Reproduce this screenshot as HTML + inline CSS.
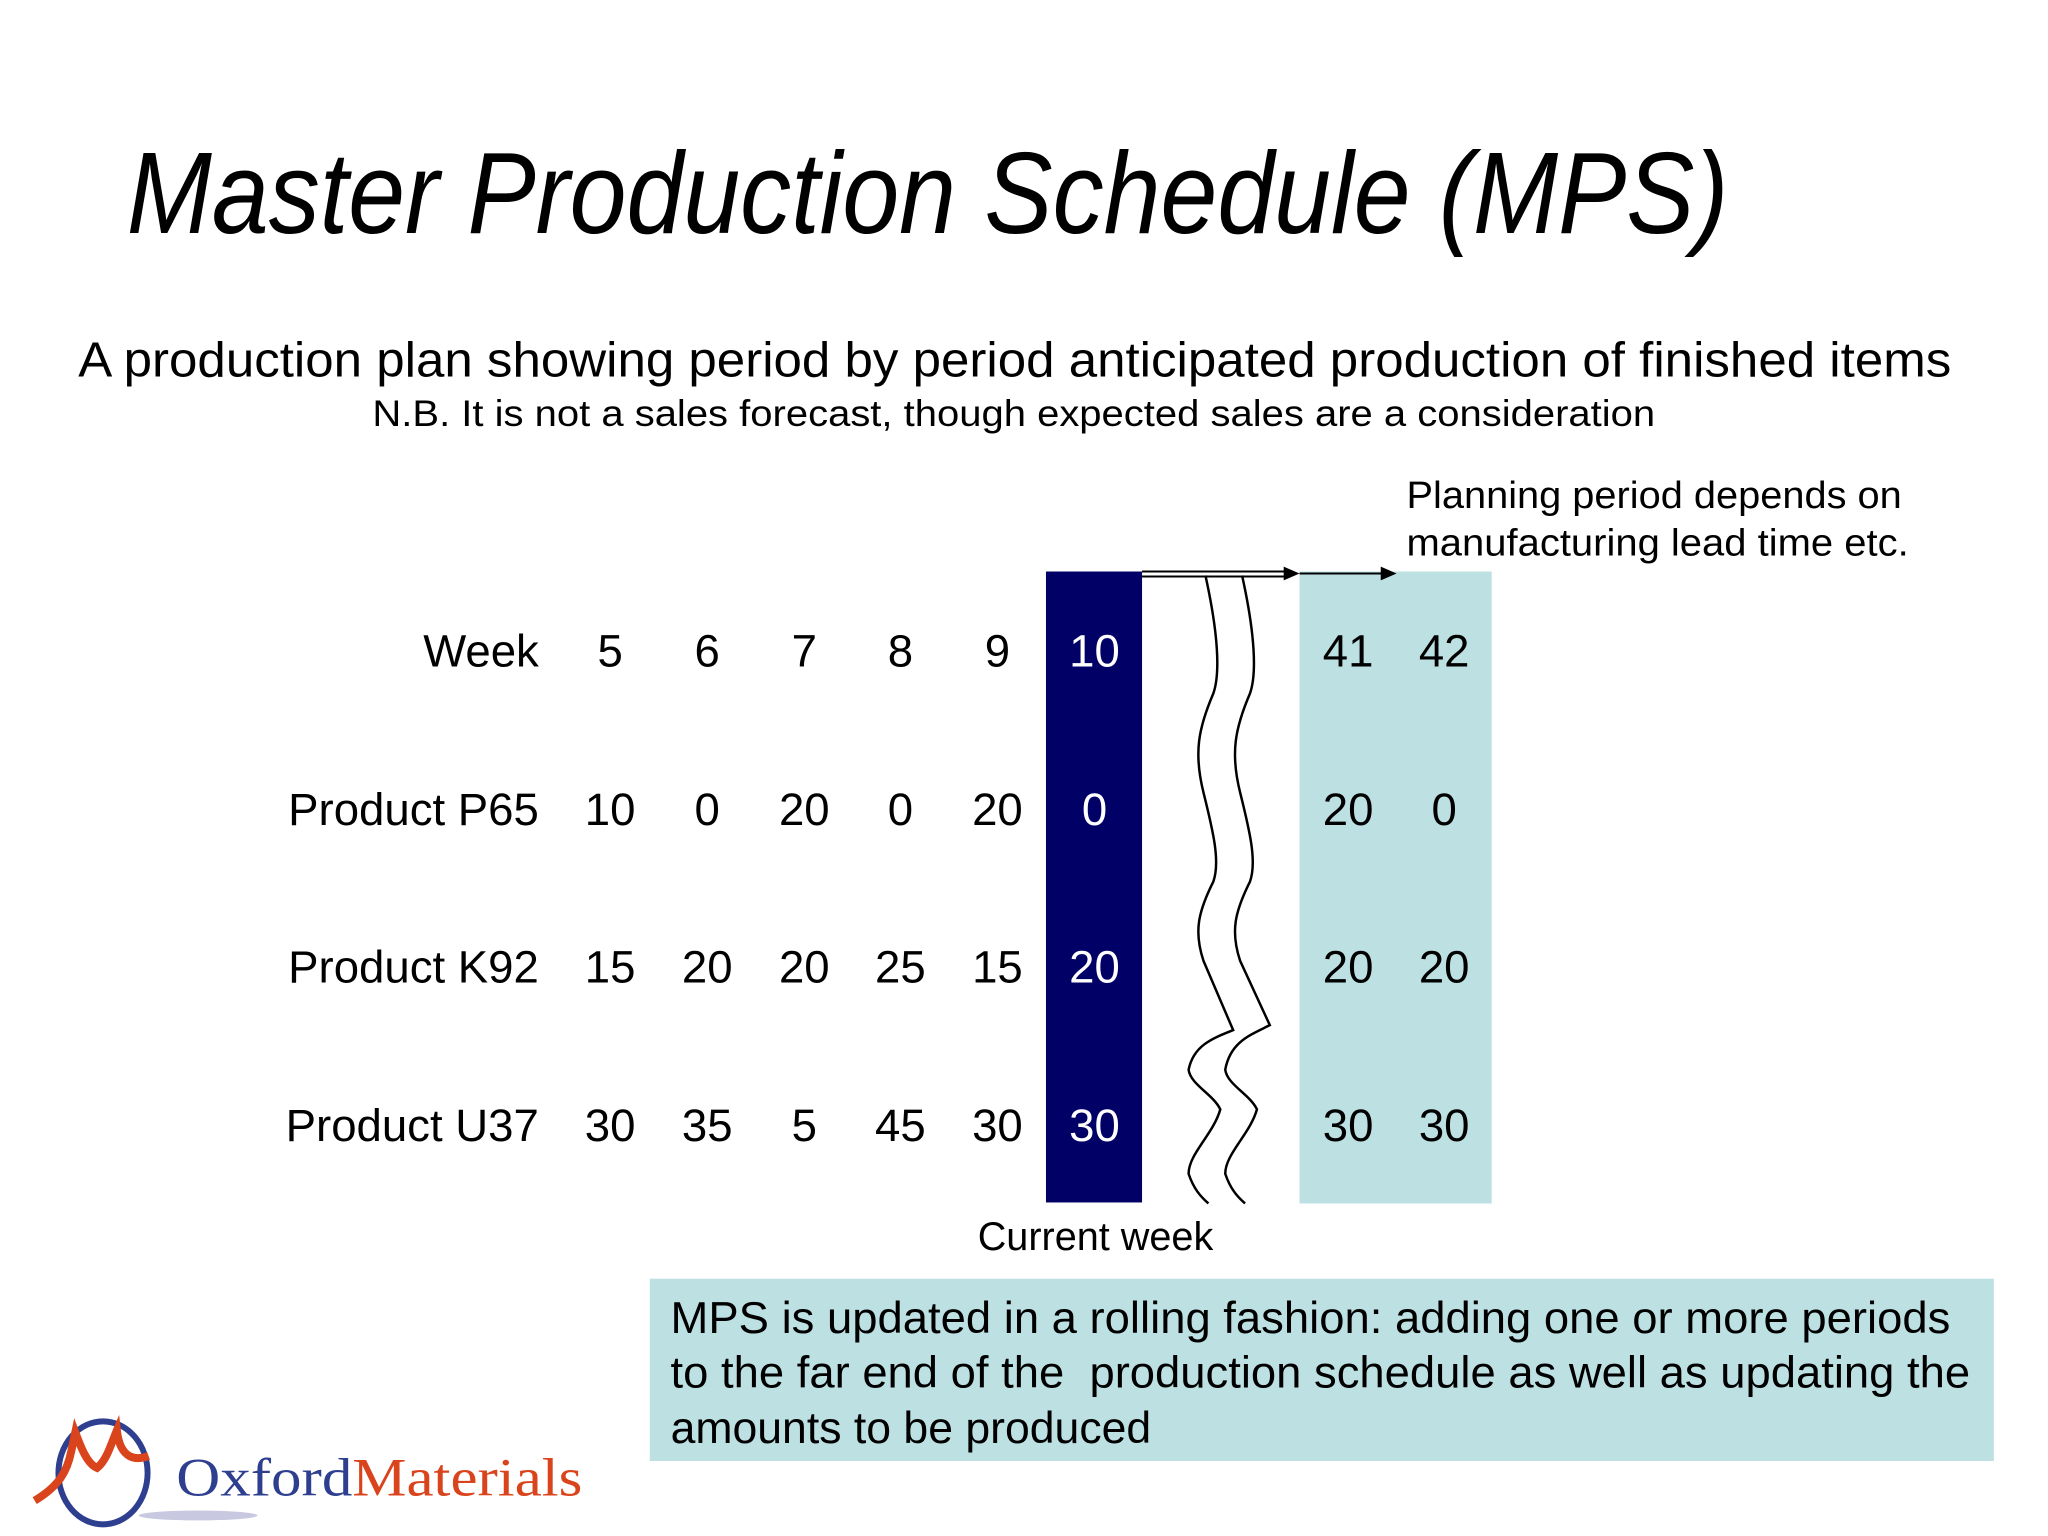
<!DOCTYPE html>
<html><head><meta charset="utf-8"><style>
html,body{margin:0;padding:0;background:#fff}
svg{display:block}
.sans{font-family:"Liberation Sans",sans-serif}
</style></head><body>
<svg id="s" width="2048" height="1536" viewBox="0 0 2048 1536">
<g transform="scale(0.9905)" class="sans">
<text x="128" y="235" font-size="117" font-style="italic" textLength="1617" lengthAdjust="spacingAndGlyphs">Master Production Schedule (MPS)</text>
<text x="79" y="380" font-size="50" textLength="1891" lengthAdjust="spacingAndGlyphs">A production plan showing period by period anticipated production of finished items</text>
<text x="376" y="430" font-size="37" textLength="1295" lengthAdjust="spacingAndGlyphs">N.B. It is not a sales forecast, though expected sales are a consideration</text>
<text x="1420" y="513" font-size="38" textLength="500" lengthAdjust="spacingAndGlyphs">Planning period depends on</text>
<text x="1420" y="561" font-size="38" textLength="507" lengthAdjust="spacingAndGlyphs">manufacturing lead time etc.</text>
<rect x="1056" y="577" width="97" height="637" fill="#000066"/>
<rect x="1312" y="577" width="194" height="638" fill="#bde0e3"/>
<g stroke="#000" stroke-width="2">
<line x1="1153" y1="577" x2="1300" y2="577"/><line x1="1153" y1="582" x2="1300" y2="582"/>
<polygon points="1296,572 1312,579 1296,586" fill="#000" stroke="none"/>
<line x1="1312" y1="579" x2="1395" y2="579"/>
<polygon points="1394,572 1410,579 1394,586" fill="#000" stroke="none"/>
</g>
<g fill="none" stroke="#000" stroke-width="2.5">
<path d="M1217,581 C1230,640 1232,680 1225,700 C1210,735 1205,760 1215,800 C1225,840 1232,870 1225,890 C1210,920 1205,940 1215,970 L1245,1040 C1225,1048 1205,1055 1200,1080 C1202,1095 1225,1105 1232,1120 C1225,1145 1200,1165 1200,1185 C1205,1200 1212,1208 1220,1215"/>
<path d="M1254,581 C1267,640 1269,680 1262,700 C1247,735 1242,760 1252,800 C1262,840 1269,870 1262,890 C1247,920 1242,940 1252,970 L1282,1035 C1262,1045 1242,1052 1237,1080 C1239,1095 1262,1105 1269,1120 C1262,1145 1237,1165 1237,1185 C1242,1200 1249,1208 1257,1215"/>
</g>
<g id="tbl"></g>
<text x="1106" y="1262" font-size="40" text-anchor="middle">Current week</text>
<rect x="656" y="1291" width="1357" height="184" fill="#bde0e3"/>
<g font-size="45">
<text x="677" y="1346" textLength="1292" lengthAdjust="spacingAndGlyphs">MPS is updated in a rolling fashion: adding one or more periods</text>
<text x="677" y="1401" textLength="1312" lengthAdjust="spacingAndGlyphs" xml:space="preserve">to the far end of the  production schedule as well as updating the</text>
<text x="677" y="1457">amounts to be produced</text>
</g>
<g>
<ellipse cx="200" cy="1530" rx="60" ry="5" fill="#c8c8e0"/>
<ellipse cx="104" cy="1487" rx="45" ry="52" fill="none" stroke="#2e3f8f" stroke-width="6"/>
<path d="M35,1515 C60,1500 68,1485 72,1465 L76,1446 C82,1462 88,1478 98,1482 C108,1474 112,1458 118,1444 C120,1462 128,1478 150,1470" fill="none" stroke="#d9441c" stroke-width="8"/>
<text x="178" y="1510" style="font-family:'Liberation Serif',serif" font-size="54" textLength="410" lengthAdjust="spacingAndGlyphs" fill="#2e3f8f">Oxford<tspan fill="#d9441c">Materials</tspan></text>
</g>
</g>
</svg>
<script>
const weeks=["5","6","7","8","9","10","41","42"];
const rowLabels=["Week","Product P65","Product K92","Product U37"];
const p65=[10,0,20,0,20,0,20,0];
const k92=[15,20,20,25,15,20,20,20];
const u37=[30,35,5,45,30,30,30,30];
const colX=[616,714,812,909,1007,1105,1361,1458];
const rowY=[673,833,992,1152];
const g=document.getElementById('tbl');
const NS="http://www.w3.org/2000/svg";
const rows=[weeks,p65,k92,u37];
function t(x,y,s,anchor,fill,name){
 const e=document.createElementNS(NS,'text');
 e.setAttribute('x',x);e.setAttribute('y',y);e.setAttribute('font-size','46');
 e.setAttribute('text-anchor',anchor);e.setAttribute('fill',fill);
 e.textContent=s;
 
 
 g.appendChild(e);
}
rowLabels.forEach((l,i)=>t(544,rowY[i],l,'end','#000','row-label'));
rows.forEach((r,i)=>r.forEach((v,j)=>t(colX[j],rowY[i],String(v),'middle',j===5?'#fff':'#000','table-cell')));
</script>
</body></html>
